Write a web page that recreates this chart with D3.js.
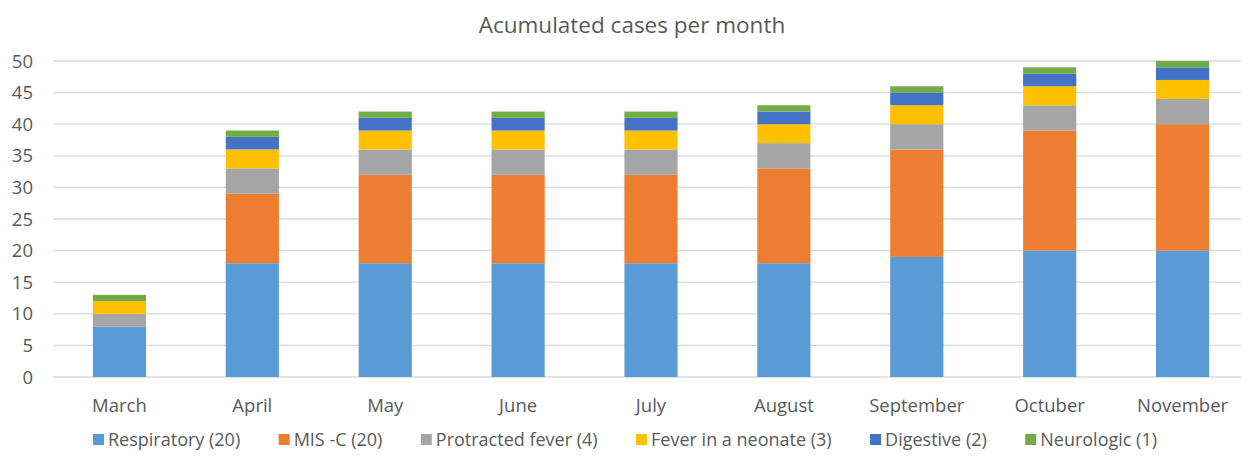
<!DOCTYPE html>
<html>
<head>
<meta charset="utf-8">
<script src="https://cdn.jsdelivr.net/npm/d3@7"></script>
<style>
  body { margin: 0; background: #fff; }
  svg text { font-family: "Open Sans", "Noto Sans", sans-serif; fill: #595959; }
</style>
</head>
<body>
<div id="chart"></div>
<script>
// months on the x axis (spelling kept as in the original chart)
const months = ["March", "April", "May", "June", "July", "August", "September", "Octuber", "November"];

// accumulated cases per group, one value per month
const respiratory = [8, 18, 18, 18, 18, 18, 19, 20, 20];
const misc = [0, 11, 14, 14, 14, 15, 17, 19, 20];
const protractedFever = [2, 4, 4, 4, 4, 4, 4, 4, 4];
const feverNeonate = [2, 3, 3, 3, 3, 3, 3, 3, 3];
const digestive = [0, 2, 2, 2, 2, 2, 2, 2, 2];
const neurologic = [1, 1, 1, 1, 1, 1, 1, 1, 1];

const seriesNames = ["Respiratory (20)", "MIS -C (20)", "Protracted fever (4)", "Fever in a neonate (3)", "Digestive (2)", "Neurologic (1)"];
const seriesValues = [respiratory, misc, protractedFever, feverNeonate, digestive, neurologic];
const colors = ["#5B9BD5", "#ED7D31", "#A5A5A5", "#FFC000", "#4472C4", "#70AD47"];
const yTicks = [0, 5, 10, 15, 20, 25, 30, 35, 40, 45, 50];

const width = 1241;
const height = 457;

const svg = d3.select("#chart")
    .append("svg")
    .attr("width", width)
    .attr("height", height);

// build rows for the stack
const keys = seriesNames.map((d, i) => "s" + i);
const rows = months.map((m, j) => {
    const row = { month: m };
    keys.forEach((k, i) => row[k] = seriesValues[i][j]);
    return row;
});
const stacked = d3.stack().keys(keys)(rows);

const x = d3.scaleBand()
    .domain(months)
    .range([53, 1249])
    .paddingInner(0.6)
    .paddingOuter(0.3);

const y = d3.scaleLinear()
    .domain([0, 50])
    .range([377, 61]);

// gridlines
svg.append("g")
    .selectAll("line")
    .data(yTicks)
    .enter()
    .append("line")
    .attr("x1", 53)
    .attr("x2", width)
    .attr("y1", d => y(d))
    .attr("y2", d => y(d))
    .attr("stroke", "#D9D9D9")
    .attr("stroke-width", 1.3);

// y labels
svg.append("g")
    .selectAll("text")
    .data(yTicks)
    .enter()
    .append("text")
    .attr("x", 33)
    .attr("y", d => y(d))
    .attr("dy", "0.36em")
    .attr("text-anchor", "end")
    .style("font-size", "18.5px")
    .text(d => d);

// bars
const layer = svg.append("g")
    .selectAll("g")
    .data(stacked)
    .enter()
    .append("g")
    .attr("fill", (d, i) => colors[i]);

layer.selectAll("rect")
    .data(d => d)
    .enter()
    .append("rect")
    .attr("x", d => x(d.data.month))
    .attr("width", x.bandwidth())
    .attr("y", d => y(d[1]))
    .attr("height", d => y(d[0]) - y(d[1]));

// month labels
svg.append("g")
    .selectAll("text")
    .data(months)
    .enter()
    .append("text")
    .attr("x", d => x(d) + x.bandwidth() / 2)
    .attr("y", 412)
    .attr("text-anchor", "middle")
    .style("font-size", "18.5px")
    .text(d => d);

// title
svg.append("text")
    .attr("x", 632)
    .attr("y", 33)
    .attr("text-anchor", "middle")
    .style("font-size", "22.5px")
    .text("Acumulated cases per month");

// legend, laid out left to right between the measured ends
const legend = svg.append("g");
const items = legend.selectAll("g")
    .data(seriesNames)
    .enter()
    .append("g");

items.append("rect")
    .attr("width", 11)
    .attr("height", 11)
    .attr("y", -12)
    .attr("fill", (d, i) => colors[i]);

items.append("text")
    .attr("x", 15)
    .attr("y", 0)
    .style("font-size", "18px")
    .text(d => d);

const widths = [];
items.each(function () { widths.push(this.getBBox().width); });
const left = 93, right = 1157;
const gap = (right - left - d3.sum(widths)) / (widths.length - 1);
let pos = left;
const offsets = widths.map(w => { const p = pos; pos += w + gap; return p; });
items.attr("transform", (d, i) => `translate(${offsets[i]},446)`);
</script>
</body>
</html>
